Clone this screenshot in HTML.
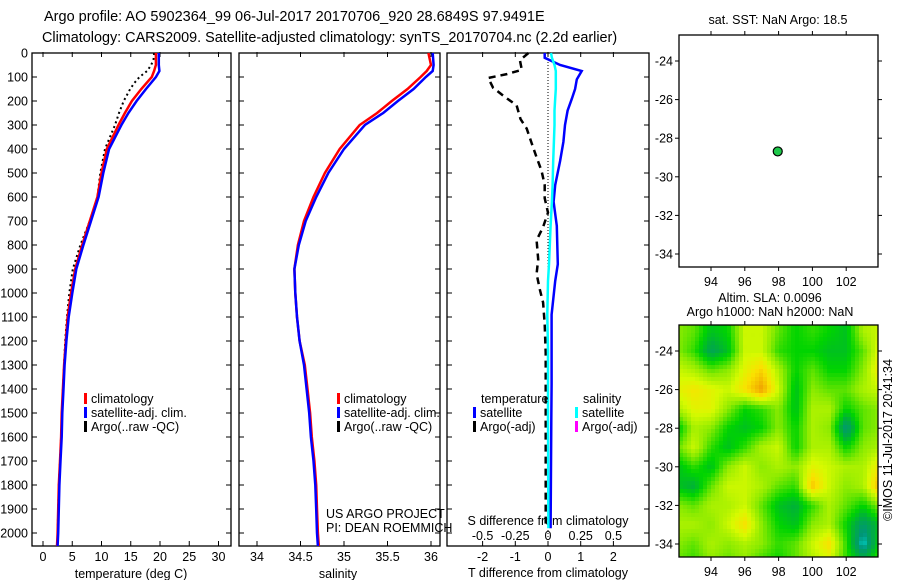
<!DOCTYPE html>
<html><head><meta charset="utf-8"><style>
html,body{margin:0;padding:0;background:#fff;}
svg{display:block;font-family:"Liberation Sans",sans-serif;}
text{fill:#000;}
</style></head><body>
<svg id="fig" width="900" height="580" viewBox="0 0 900 580">
<text x="44" y="21" font-size="14.5">Argo profile: AO 5902364_99 06-Jul-2017 20170706_920 28.6849S 97.9491E</text>
<text x="42" y="42" font-size="14.4">Climatology: CARS2009. Satellite-adjusted climatology: synTS_20170704.nc (2.2d earlier)</text>
<g id="p1"></g>
<g id="p2"></g>
<g id="p3"></g>
<g id="m1"></g>
<g id="m2"></g>
<text x="0" y="0" font-size="12.5" transform="translate(892,440) rotate(-90)" text-anchor="middle">©IMOS 11-Jul-2017 20:41:34</text>
</svg>
<script>
// ---- data ----
const depths = [0,50,75,100,150,200,250,300,400,500,600,700,800,900,1000,1100,1200,1300,1400,1500,1600,1700,1800,1900,2000,2054];
const tempClim = [19.3,19.3,19.0,18.6,16.8,15.2,14.0,12.9,10.9,10.0,9.3,8.0,6.7,5.5,4.8,4.2,3.9,3.6,3.4,3.2,3.1,2.9,2.7,2.6,2.5,2.4];
const tempSat  = [19.8,19.8,19.9,19.3,17.6,16.0,14.6,13.4,11.3,10.3,9.5,8.2,6.9,5.7,5.0,4.4,4.0,3.7,3.5,3.3,3.2,3.0,2.8,2.7,2.6,2.5];
const argoDepths = [0,25,50,75,100,125,150,200,250,300,400,500,600,700,800,900,1000,1100,1200,1400,1600,1800,2000];
const argoTemp = [19.0,18.9,18.5,17.8,16.5,15.6,14.9,13.8,13.0,12.3,10.6,9.8,9.3,8.0,6.4,5.1,4.5,4.1,3.8,3.4,3.1,2.7,2.5];
const salClim = [35.97,36.0,35.95,35.88,35.73,35.55,35.38,35.18,34.95,34.78,34.65,34.54,34.47,34.43,34.44,34.46,34.49,34.55,34.58,34.61,34.63,34.66,34.68,34.69,34.70,34.71];
const salSat  = [36.02,36.03,36.02,35.94,35.80,35.62,35.45,35.24,35.00,34.82,34.68,34.56,34.48,34.43,34.44,34.46,34.49,34.54,34.57,34.60,34.62,34.65,34.67,34.68,34.69,34.70];
const diffDepths = [0,20,50,75,110,150,190,240,300,370,450,550,620,720,880,950,1090,1240,1380,1530,1980];
const tDiffSat = [-0.1,-0.1,0.37,1.03,0.88,0.83,0.73,0.6,0.52,0.47,0.37,0.22,0.17,0.27,0.3,0.22,0.11,0.11,0.11,0.1,0.08];
const sDiffSat = [0.023,0.03,0.05,0.06,0.06,0.06,0.055,0.05,0.05,0.045,0.04,0.035,0.03,0.02,0.008,0.0,-0.005,0.0,0.0,0.0,0.003];
const argoDiffDepths = [0,30,70,88,104,145,185,218,275,315,375,435,490,550,605,665,725,780,860,920,985,1040,1130,1250,1540,1980];
const tDiffArgo = [-0.6,-0.86,-0.8,-1.26,-1.83,-1.68,-1.3,-0.96,-0.84,-0.65,-0.5,-0.35,-0.2,-0.1,-0.1,0.0,-0.15,-0.35,-0.3,-0.35,-0.25,-0.15,-0.1,-0.07,-0.07,-0.07];
const depthTicks = [0,100,200,300,400,500,600,700,800,900,1000,1100,1200,1300,1400,1500,1600,1700,1800,1900,2000];
const tempTicks = [0,5,10,15,20,25,30];
const salTicks = [34,34.5,35,35.5,36];
const tDiffTicks = [-2,-1,0,1,2];
const sDiffTicks = [-0.5,-0.25,0,0.25,0.5];
const sDiffTickLabels = ["-0.5","-0.25","0","0.25","0.5"];
const lonTicks = [94,96,98,100,102];
const latTicks = [-24,-26,-28,-30,-32,-34];
const argoLon = [97.9491];
const argoLat = [-28.6849];
const gridLons = [92,93,94,95,96,97,98,99,100,101,102,103,104];
const gridLats = [-23,-24,-25,-26,-27,-28,-29,-30,-31,-32,-33,-34,-35];
const slaRow0  = [.5,.45,.3,.35,.6,.6,.45,.35,.4,.35,.3,.55,.6];
const slaRow1  = [.5,.4,.2,.3,.6,.6,.4,.35,.35,.3,.3,.45,.65];
const slaRow2  = [.6,.55,.45,.5,.65,.75,.55,.35,.45,.35,.35,.5,.7];
const slaRow3  = [.65,.7,.65,.6,.72,.87,.6,.3,.5,.45,.45,.55,.6];
const slaRow4  = [.55,.65,.65,.5,.35,.4,.5,.3,.55,.55,.35,.45,.5];
const slaRow5  = [.3,.55,.5,.35,.3,.35,.5,.35,.55,.5,.12,.45,.5];
const slaRow6  = [.45,.6,.4,.3,.4,.55,.6,.35,.55,.55,.35,.5,.55];
const slaRow7  = [.3,.4,.3,.5,.6,.5,.55,.5,.65,.6,.55,.55,.7];
const slaRow8  = [.3,.25,.45,.6,.6,.55,.45,.4,.78,.6,.5,.55,.82];
const slaRow9  = [.5,.45,.55,.55,.6,.45,.3,.25,.4,.55,.45,.35,.5];
const slaRow10 = [.55,.55,.5,.6,.72,.5,.35,.3,.5,.55,.35,.15,.3];
const slaRow11 = [.5,.45,.55,.5,.55,.5,.4,.45,.6,.72,.4,.03,.35];
const slaRow12 = [.45,.4,.5,.45,.5,.4,.35,.45,.55,.6,.4,.3,.45];
const slaGrid = [slaRow0,slaRow1,slaRow2,slaRow3,slaRow4,slaRow5,slaRow6,slaRow7,slaRow8,slaRow9,slaRow10,slaRow11,slaRow12];

// ---- helpers ----
const NS="http://www.w3.org/2000/svg";
function mk(parent,tag,attrs,txt){const e=document.createElementNS(NS,tag);for(const k in attrs)e.setAttribute(k,attrs[k]);if(txt!==undefined)e.textContent=txt;parent.appendChild(e);return e;}
const TOP=53, BOT=546;
const yD = d => TOP + d*0.24;

function frame(g,x0,x1,y0,y1,name){
  const r=mk(g,'rect',{x:x0,y:y0,width:x1-x0,height:y1-y0,fill:'none',stroke:'#000','stroke-width':1.3});
  
  
}
function depthTickMarks(g,x0,x1,labels,name){
  depthTicks.forEach(d=>{
    const y=yD(d);
    const t1=mk(g,'line',{x1:x0,x2:x0+5,y1:y,y2:y,stroke:'#000'});
    
    
    const t2=mk(g,'line',{x1:x1-5,x2:x1,y1:y,y2:y,stroke:'#000'});
    
    
    if(labels){
      const t=mk(g,'text',{x:x0-4,y:y+4.5,'font-size':12.5,'text-anchor':'end'},String(d));
      
      
    }
  });
}
function xTicks(g,ticks,labels,xs,yLab,name){
  ticks.forEach((v,i)=>{
    const x=xs(v);
    const a=mk(g,'line',{x1:x,x2:x,y1:BOT-5,y2:BOT,stroke:'#000'});
    
    
    const b=mk(g,'line',{x1:x,x2:x,y1:TOP-1,y2:TOP+4,stroke:'#000'});
    
    
    const t=mk(g,'text',{x:x,y:yLab,'font-size':12.5,'text-anchor':'middle'},labels[i]);
    
    
  });
}
function line(g,xs,ys,color,w,name,dash){
  const pts=xs.map((x,i)=>x.toFixed(1)+','+ys[i].toFixed(1)).join(' ');
  const a={points:pts,fill:'none',stroke:color,'stroke-width':w,'stroke-linejoin':'miter'};
  if(dash)a['stroke-dasharray']=dash;
  const p=mk(g,'polyline',a);
  
  
}
function legend(g,x,y,color,label,name){
  const r=mk(g,'rect',{x:x,y:y-10,width:3,height:11,fill:color});
  
  
  const t=mk(g,'text',{x:x+7,y:y,'font-size':12.5},label);
  
  
}
function txt(g,x,y,s,name,anchor,size){
  const t=mk(g,'text',{x:x,y:y,'font-size':size||12.5,'text-anchor':anchor||'start'},s);
  
  
}

// ---- panel 1: temperature ----
const p1=document.getElementById('p1');
const xT = v => 43 + v*5.85;
frame(p1,32,231,TOP,BOT,'temperature');
depthTickMarks(p1,32,231,true,'temperature');
xTicks(p1,tempTicks,tempTicks.map(String),xT,561,'temperature');
txt(p1,131,578,'temperature (deg C)','temperature-axis-title','middle');
line(p1,argoTemp.map(xT),argoDepths.map(yD),'#000',2,'argo-temperature-profile','2,3');
line(p1,tempClim.map(xT),depths.map(yD),'#f00',2.5,'climatology-temperature-profile');
line(p1,tempSat.map(xT),depths.map(yD),'#00f',2.5,'satellite-temperature-profile');
legend(p1,84,403,'#f00','climatology','legend-climatology');
legend(p1,84,417,'#00f','satellite-adj. clim.','legend-satellite');
legend(p1,84,431,'#000','Argo(..raw -QC)','legend-argo');

// ---- panel 2: salinity ----
const p2=document.getElementById('p2');
const xS = v => 257 + (v-34)*87;
frame(p2,239,440,TOP,BOT,'salinity');
depthTickMarks(p2,239,440,false,'salinity');
xTicks(p2,salTicks,salTicks.map(String),xS,561,'salinity');
txt(p2,338,578,'salinity','salinity-axis-title','middle');
line(p2,salClim.map(xS),depths.map(yD),'#f00',2.5,'climatology-salinity-profile');
line(p2,salSat.map(xS),depths.map(yD),'#00f',2.5,'satellite-salinity-profile');
legend(p2,337,403,'#f00','climatology','legend-climatology-2');
legend(p2,337,417,'#00f','satellite-adj. clim.','legend-satellite-2');
legend(p2,337,431,'#000','Argo(..raw -QC)','legend-argo-2');
txt(p2,326,518,'US ARGO PROJECT','project-label');
txt(p2,326,532,'PI: DEAN ROEMMICH','pi-label');

// ---- panel 3: differences ----
const p3=document.getElementById('p3');
const xTD = v => 548 + v*32.7;
const xSD = v => 548 + v*130.8;
frame(p3,447,649,TOP,BOT,'difference');
depthTickMarks(p3,447,649,false,'difference');
const zl=mk(p3,'line',{x1:548,x2:548,y1:TOP,y2:BOT,stroke:'#000','stroke-dasharray':'1,2'});


xTicks(p3,tDiffTicks,tDiffTicks.map(String),xTD,561,'t-difference');
sDiffTicks.forEach((v,i)=>txt(p3,xSD(v),540,sDiffTickLabels[i],'s-difference-tick-label','middle'));
txt(p3,548,525,'S difference from climatology','s-difference-axis-title','middle');
txt(p3,548,577,'T difference from climatology','t-difference-axis-title','middle');
line(p3,tDiffArgo.map(xTD),argoDiffDepths.map(yD),'#000',2.5,'argo-t-difference','7,5');
line(p3,tDiffSat.map(xTD),diffDepths.map(yD),'#00f',2.5,'satellite-t-difference');
line(p3,sDiffSat.map(xSD),diffDepths.map(yD),'#0ff',2.5,'satellite-s-difference');
txt(p3,481,403,'temperature','legend-temperature-header');
txt(p3,583,403,'salinity','legend-salinity-header');
legend(p3,473,417,'#00f','satellite','legend-t-satellite');
legend(p3,473,431,'#000','Argo(-adj)','legend-t-argo');
legend(p3,575,417,'#0ff','satellite','legend-s-satellite');
legend(p3,575,431,'#f0f','Argo(-adj)','legend-s-argo');

// ---- maps ----
const xL = v => 711 + (v-94)*16.9;
const ML=679, MR=878;
function mapAxes(g,y0,y1,yLat,name){
  lonTicks.forEach(v=>{
    const x=xL(v);
    const a=mk(g,'line',{x1:x,x2:x,y1:y1,y2:y1+4,stroke:'#000'});
    
    
    const b=mk(g,'line',{x1:x,x2:x,y1:y0-4,y2:y0,stroke:'#000'});
    
    
    txt(g,x,y1+19,String(v),name+'-lon-label','middle');
  });
  latTicks.forEach(v=>{
    const y=yLat(v);
    const a=mk(g,'line',{x1:ML-4,x2:ML,y1:y,y2:y,stroke:'#000'});
    
    
    const b=mk(g,'line',{x1:MR,x2:MR+4,y1:y,y2:y,stroke:'#000'});
    
    
    txt(g,ML-6,y+4.5,String(v),name+'-lat-label','end');
  });
  frame(g,ML,MR,y0,y1,name);
}
const m1=document.getElementById('m1');
const yLat1 = v => 61 + (-24-v)*19.3;
txt(m1,778,24,'sat. SST: NaN Argo: 18.5','sst-map-title','middle');
mapAxes(m1,35,267,yLat1,'sst-map');
argoLon.forEach((lo,i)=>{
  const c=mk(m1,'circle',{cx:xL(lo),cy:yLat1(argoLat[i]),r:4.5,fill:'#1ec84a',stroke:'#000','stroke-width':1.2});
  
  
});

const m2=document.getElementById('m2');
const yLat2 = v => 351 + (-24-v)*19.3;
txt(m2,770,302,'Altim. SLA: 0.0096','sla-map-title','middle');
txt(m2,770,316,'Argo h1000: NaN h2000: NaN','argo-height-title','middle');
const stops=[[0,[0,235,235]],[0.12,[0,150,120]],[0.25,[0,175,60]],[0.35,[0,212,0]],[0.5,[140,235,0]],[0.62,[215,250,0]],[0.72,[250,225,0]],[0.87,[240,160,0]],[1,[230,110,0]]];
function cmap(v){
  v=Math.max(0,Math.min(1,v));
  for(let i=1;i<stops.length;i++){if(v<=stops[i][0]){const a=stops[i-1],b=stops[i],t=(v-a[0])/(b[0]-a[0]);return 'rgb('+a[1].map((c,k)=>Math.round(c+(b[1][k]-c)*t)).join(',')+')';}}
  return 'rgb(230,110,0)';
}
function sample(lon,lat){
  let fi=(lon-gridLons[0]); let fj=(gridLats[0]-lat);
  fi=Math.max(0,Math.min(gridLons.length-1.001,fi)); fj=Math.max(0,Math.min(gridLats.length-1.001,fj));
  const i=Math.floor(fi), j=Math.floor(fj), A=fi-i, B=fj-j;
  return slaGrid[j][i]*(1-A)*(1-B)+slaGrid[j][i+1]*A*(1-B)+slaGrid[j+1][i]*(1-A)*B+slaGrid[j+1][i+1]*A*B;
}
const hm=mk(m2,'g',{});


const Y0=325,Y1=557,CW=4,CH=4;
for(let y=Y0;y<Y1;y+=CH){
  for(let x=ML;x<MR;x+=CW){
    const lon=94+(x+CW/2-711)/16.9, lat=-24-(y+CH/2-351)/19.3;
    const r=mk(hm,'rect',{x:x,y:y,width:Math.min(CW,MR-x)+0.3,height:Math.min(CH,Y1-y)+0.3,fill:cmap(sample(lon,lat))});
    
    
  }
}
mapAxes(m2,Y0,Y1,yLat2,'sla-map');
</script>
</body></html>
